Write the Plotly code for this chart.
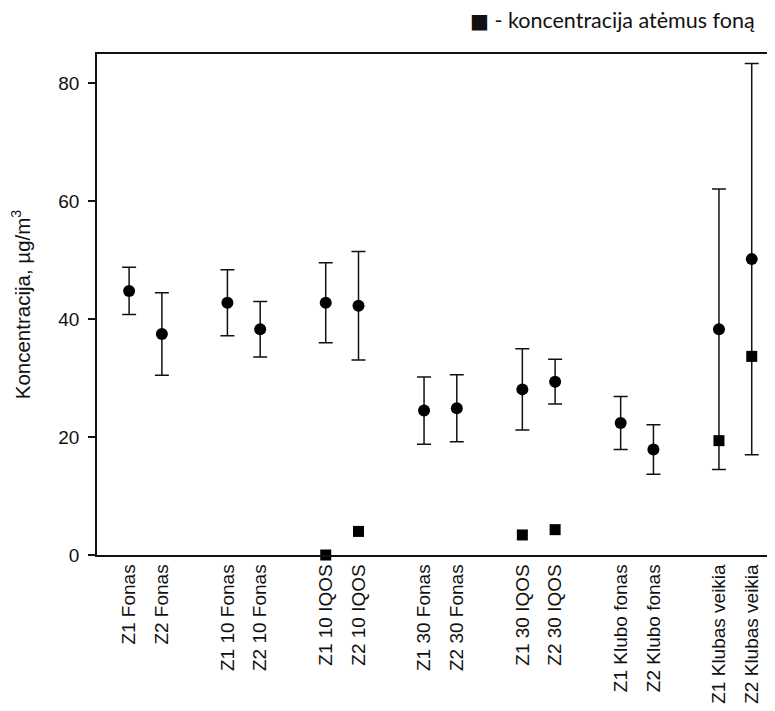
import plotly.graph_objects as go

categories = ["Z1 Fonas", "Z2 Fonas", "Z1 10 Fonas", "Z2 10 Fonas",
              "Z1 10 IQOS", "Z2 10 IQOS", "Z1 30 Fonas", "Z2 30 Fonas",
              "Z1 30 IQOS", "Z2 30 IQOS", "Z1 Klubo fonas", "Z2 Klubo fonas",
              "Z1 Klubas veikia", "Z2 Klubas veikia"]
mean_values = [44.8, 37.5, 42.8, 38.3, 42.8, 42.3, 24.5, 24.9,
               28.1, 29.4, 22.4, 17.9, 38.3, 50.2]
error_values = [4.0, 7.0, 5.6, 4.7, 6.8, 9.2, 5.7, 5.7,
                6.9, 3.8, 4.5, 4.2, 23.8, 33.2]
# background-subtracted concentration (None where not shown)
minus_bg_values = [None, None, None, None, 0.0, 4.0, None, None,
                   3.4, 4.3, None, None, 19.4, 33.7]
y_ticks = [0, 20, 40, 60, 80]

# two categories per group, one empty slot between groups
xpos = [3 * (i // 2) + (i % 2) for i in range(len(categories))]

font_family = "Liberation Sans, Arial, sans-serif"
ink = "#111111"

fig = go.Figure()
fig.add_trace(go.Scatter(
    x=xpos, y=mean_values, mode="markers",
    marker=dict(symbol="circle", size=12, color="black"),
    error_y=dict(type="data", array=error_values, visible=True,
                 color=ink, thickness=1.5, width=7),
    showlegend=False, cliponaxis=False))
fig.add_trace(go.Scatter(
    x=xpos, y=minus_bg_values, mode="markers",
    marker=dict(symbol="square", size=11, color="black"),
    showlegend=False, cliponaxis=False))

fig.update_layout(
    width=767, height=703,
    margin=dict(l=89, r=0, t=46, b=156, autoexpand=False),
    paper_bgcolor="white", plot_bgcolor="white",
    font=dict(family=font_family, size=19, color=ink),
    xaxis=dict(range=[-0.98, 19.71], tickmode="array", tickvals=xpos,
               ticktext=categories, tickangle=-90, ticks="",
               showgrid=False, zeroline=False, showline=True,
               linecolor=ink, linewidth=1.5, mirror=True, automargin=False,
               tickfont=dict(family=font_family, size=19)),
    yaxis=dict(range=[0, 85], tickmode="array", tickvals=y_ticks,
               ticks="outside", ticklen=7, tickwidth=1.5, tickcolor=ink,
               ticklabelstandoff=5,
               showgrid=False, zeroline=False, showline=True,
               linecolor=ink, linewidth=1.5, automargin=False,
               tickfont=dict(family=font_family, size=19),
               title=dict(text="Koncentracija, µg/m<sup>3</sup>",
                          font=dict(family=font_family, size=20.5), standoff=29)),
)

fig.add_annotation(
    text="<span style='font-family:DejaVu Sans;font-size:20px'>■</span> - koncentracija atėmus foną",
    xref="paper", yref="paper",
    x=1, y=1, xanchor="right", yanchor="middle", yshift=34, xshift=-18,
    showarrow=False, font=dict(family="Lato, Carlito, sans-serif", size=21.5, color=ink))

fig.write_html("out.html")
